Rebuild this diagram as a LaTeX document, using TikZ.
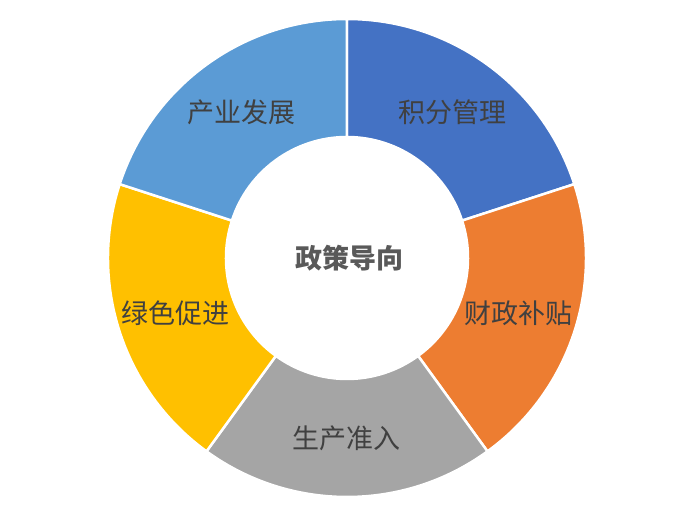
\documentclass[tikz,border=0pt]{standalone}
\usepackage{fontspec}
\setmainfont{Noto Sans CJK SC}
\usetikzlibrary{positioning}
\definecolor{segBlue}{HTML}{4472C4}
\definecolor{segOrange}{HTML}{ED7D31}
\definecolor{segGray}{HTML}{A5A5A5}
\definecolor{segYellow}{HTML}{FFC000}
\definecolor{segSky}{HTML}{5B9BD5}
\definecolor{txtGray}{HTML}{404040}
\definecolor{hubGray}{HTML}{595959}
\begin{document}
\begin{tikzpicture}[x=1pt,y=1pt,
      seg/.style={draw=white, line width=2.5pt, line join=round},
      lbl/.style={text=txtGray, font=\fontsize{27}{30}\selectfont, inner sep=0pt},
      hub/.style={text=hubGray, font=\fontsize{27}{30}\selectfont\bfseries, inner sep=0pt}]
    \useasboundingbox (-347,-252) rectangle (339,258);
    \def\rin{121}
    \def\rout{239}
    \def\rmid{180}
    % ring segments, counterclockwise from the right
    \foreach \a/\b/\c/\n/\t in {18/90/segBlue/jf/积分管理,
                                -54/18/segOrange/cz/财政补贴,
                                -126/-54/segGray/sc/生产准入,
                                162/234/segYellow/ls/绿色促进,
                                90/162/segSky/cy/产业发展}
      {\fill[seg, fill=\c] (\a:\rin) -- (\a:\rout)
          arc[start angle=\a, end angle=\b, radius=\rout]
          -- (\b:\rin) arc[start angle=\b, end angle=\a, radius=\rin] -- cycle;
       \node[lbl] (\n) at ({(\a+\b)/2}:\rmid) {\t};}
    \node[hub] (hub) at (3,0) {政策导向};
  \end{tikzpicture}
\end{document}
